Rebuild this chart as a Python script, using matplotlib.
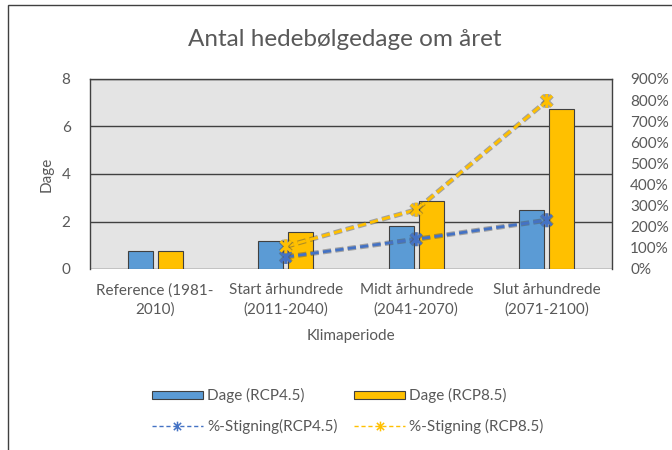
import numpy as np
import matplotlib
matplotlib.use("Agg")
import matplotlib.pyplot as plt
from matplotlib.path import Path
from matplotlib.lines import Line2D
from matplotlib.patches import Patch, Rectangle
import matplotlib.patheffects as pe
from matplotlib.ticker import FuncFormatter

plt.rcParams['font.family'] = ['Lato', 'DejaVu Sans']

categories = ["Reference (1981-\n2010)", "Start århundrede\n(2011-2040)",
              "Midt århundrede\n(2041-2070)", "Slut århundrede\n(2071-2100)"]
dage_rcp45 = [0.75, 1.18, 1.81, 2.48]
dage_rcp85 = [0.75, 1.55, 2.86, 6.72]
pct_rcp45 = [np.nan, 57, 141, 231]
pct_rcp85 = [np.nan, 107, 281, 796]

TXT = '#595959'
BLUE_BAR = '#5B9BD5'
GOLD = '#FFC000'
BLUE_LINE = '#4472C4'
FS = 11

fig = plt.figure(figsize=(6.72, 4.5), dpi=100)
fig.patches.append(Rectangle((8/672, -0.1), 1.2, 1 - 5/450 + 0.1, transform=fig.transFigure,
                             fill=False, edgecolor='#404040', linewidth=1.0))

ax = fig.add_axes([90/672, 1-269/450, 522/672, 190/450])
ax.set_facecolor('#E4E4E4')
x = np.arange(len(categories))
w = 0.19
off = 0.115
ax.bar(x - off, dage_rcp45, w, color=BLUE_BAR, edgecolor='#404040', linewidth=0.8, zorder=3)
ax.bar(x + off, dage_rcp85, w, color=GOLD, edgecolor='#404040', linewidth=0.8, zorder=3)
ax.set_xlim(-0.5, len(categories) - 0.5)
ax.set_ylim(0, 8)
ax.set_yticks([0, 2, 4, 6, 8])
ax.yaxis.grid(True, color='#404040', linewidth=1.0, zorder=0)
ax.set_axisbelow(True)
for s in ['left', 'top', 'right']:
    ax.spines[s].set_color('#404040')
    ax.spines[s].set_linewidth(1.0)
ax.spines['bottom'].set_visible(False)
ax.tick_params(axis='both', length=0, colors=TXT, labelsize=FS)
ax.tick_params(axis='y', pad=14)
ax.tick_params(axis='x', pad=10)
ax.set_xticks(x)
ax.set_xticklabels(categories, linespacing=1.45)
ax.set_ylabel('Dage', color=TXT, fontsize=FS, labelpad=6)
ax.set_xlabel('Klimaperiode', color=TXT, fontsize=FS, labelpad=9)

ax2 = ax.twinx()
ax2.set_ylim(0, 900)
ax2.set_yticks(np.arange(0, 901, 100))
ax2.yaxis.set_major_formatter(FuncFormatter(lambda v, p: f"{int(v)}%"))
ax2.tick_params(axis='y', length=0, colors=TXT, labelsize=FS, pad=13)
for s in ax2.spines.values():
    s.set_visible(False)

star = Path([(0, -1), (0, 1), (-0.75, -0.75), (0.75, 0.75), (-0.75, 0.75), (0.75, -0.75)],
            [Path.MOVETO, Path.LINETO, Path.MOVETO, Path.LINETO, Path.MOVETO, Path.LINETO])
shadow = [pe.Stroke(linewidth=3.6, foreground='#505050', alpha=0.45), pe.Normal()]
ax2.plot(x, pct_rcp45, color=BLUE_LINE, linestyle=(0, (3, 1.5)), linewidth=2, marker=star,
         markersize=10, markeredgewidth=2, path_effects=shadow, zorder=5)
ax2.plot(x, pct_rcp85, color=GOLD, linestyle=(0, (3, 1.5)), linewidth=2, marker=star,
         markersize=10, markeredgewidth=2, path_effects=shadow, zorder=5)

fig.text(345/672, 1-40/450, 'Antal hedebølgedage om året', ha='center', va='center',
         fontsize=17.5, color=TXT)

handles = [Patch(facecolor=BLUE_BAR, edgecolor='#404040', linewidth=0.8),
           Line2D([], [], color=BLUE_LINE, linestyle=(0, (3, 2)), linewidth=1, marker=star,
                  markersize=7, markeredgewidth=1.1),
           Patch(facecolor=GOLD, edgecolor='#404040', linewidth=0.8),
           Line2D([], [], color=GOLD, linestyle=(0, (3, 2)), linewidth=1, marker=star,
                  markersize=7, markeredgewidth=1.1)]
labels = ['Dage (RCP4.5)', '%-Stigning(RCP4.5)', 'Dage (RCP8.5)', '%-Stigning (RCP8.5)']
leg = fig.legend(handles, labels, ncol=2, loc='center', bbox_to_anchor=(348/672, 1-411/450),
                 frameon=False, fontsize=FS, labelcolor=TXT, handlelength=3.3,
                 handleheight=0.5, handletextpad=0.3, columnspacing=1.1, labelspacing=1.0)

fig.savefig('out.png', dpi=100)
